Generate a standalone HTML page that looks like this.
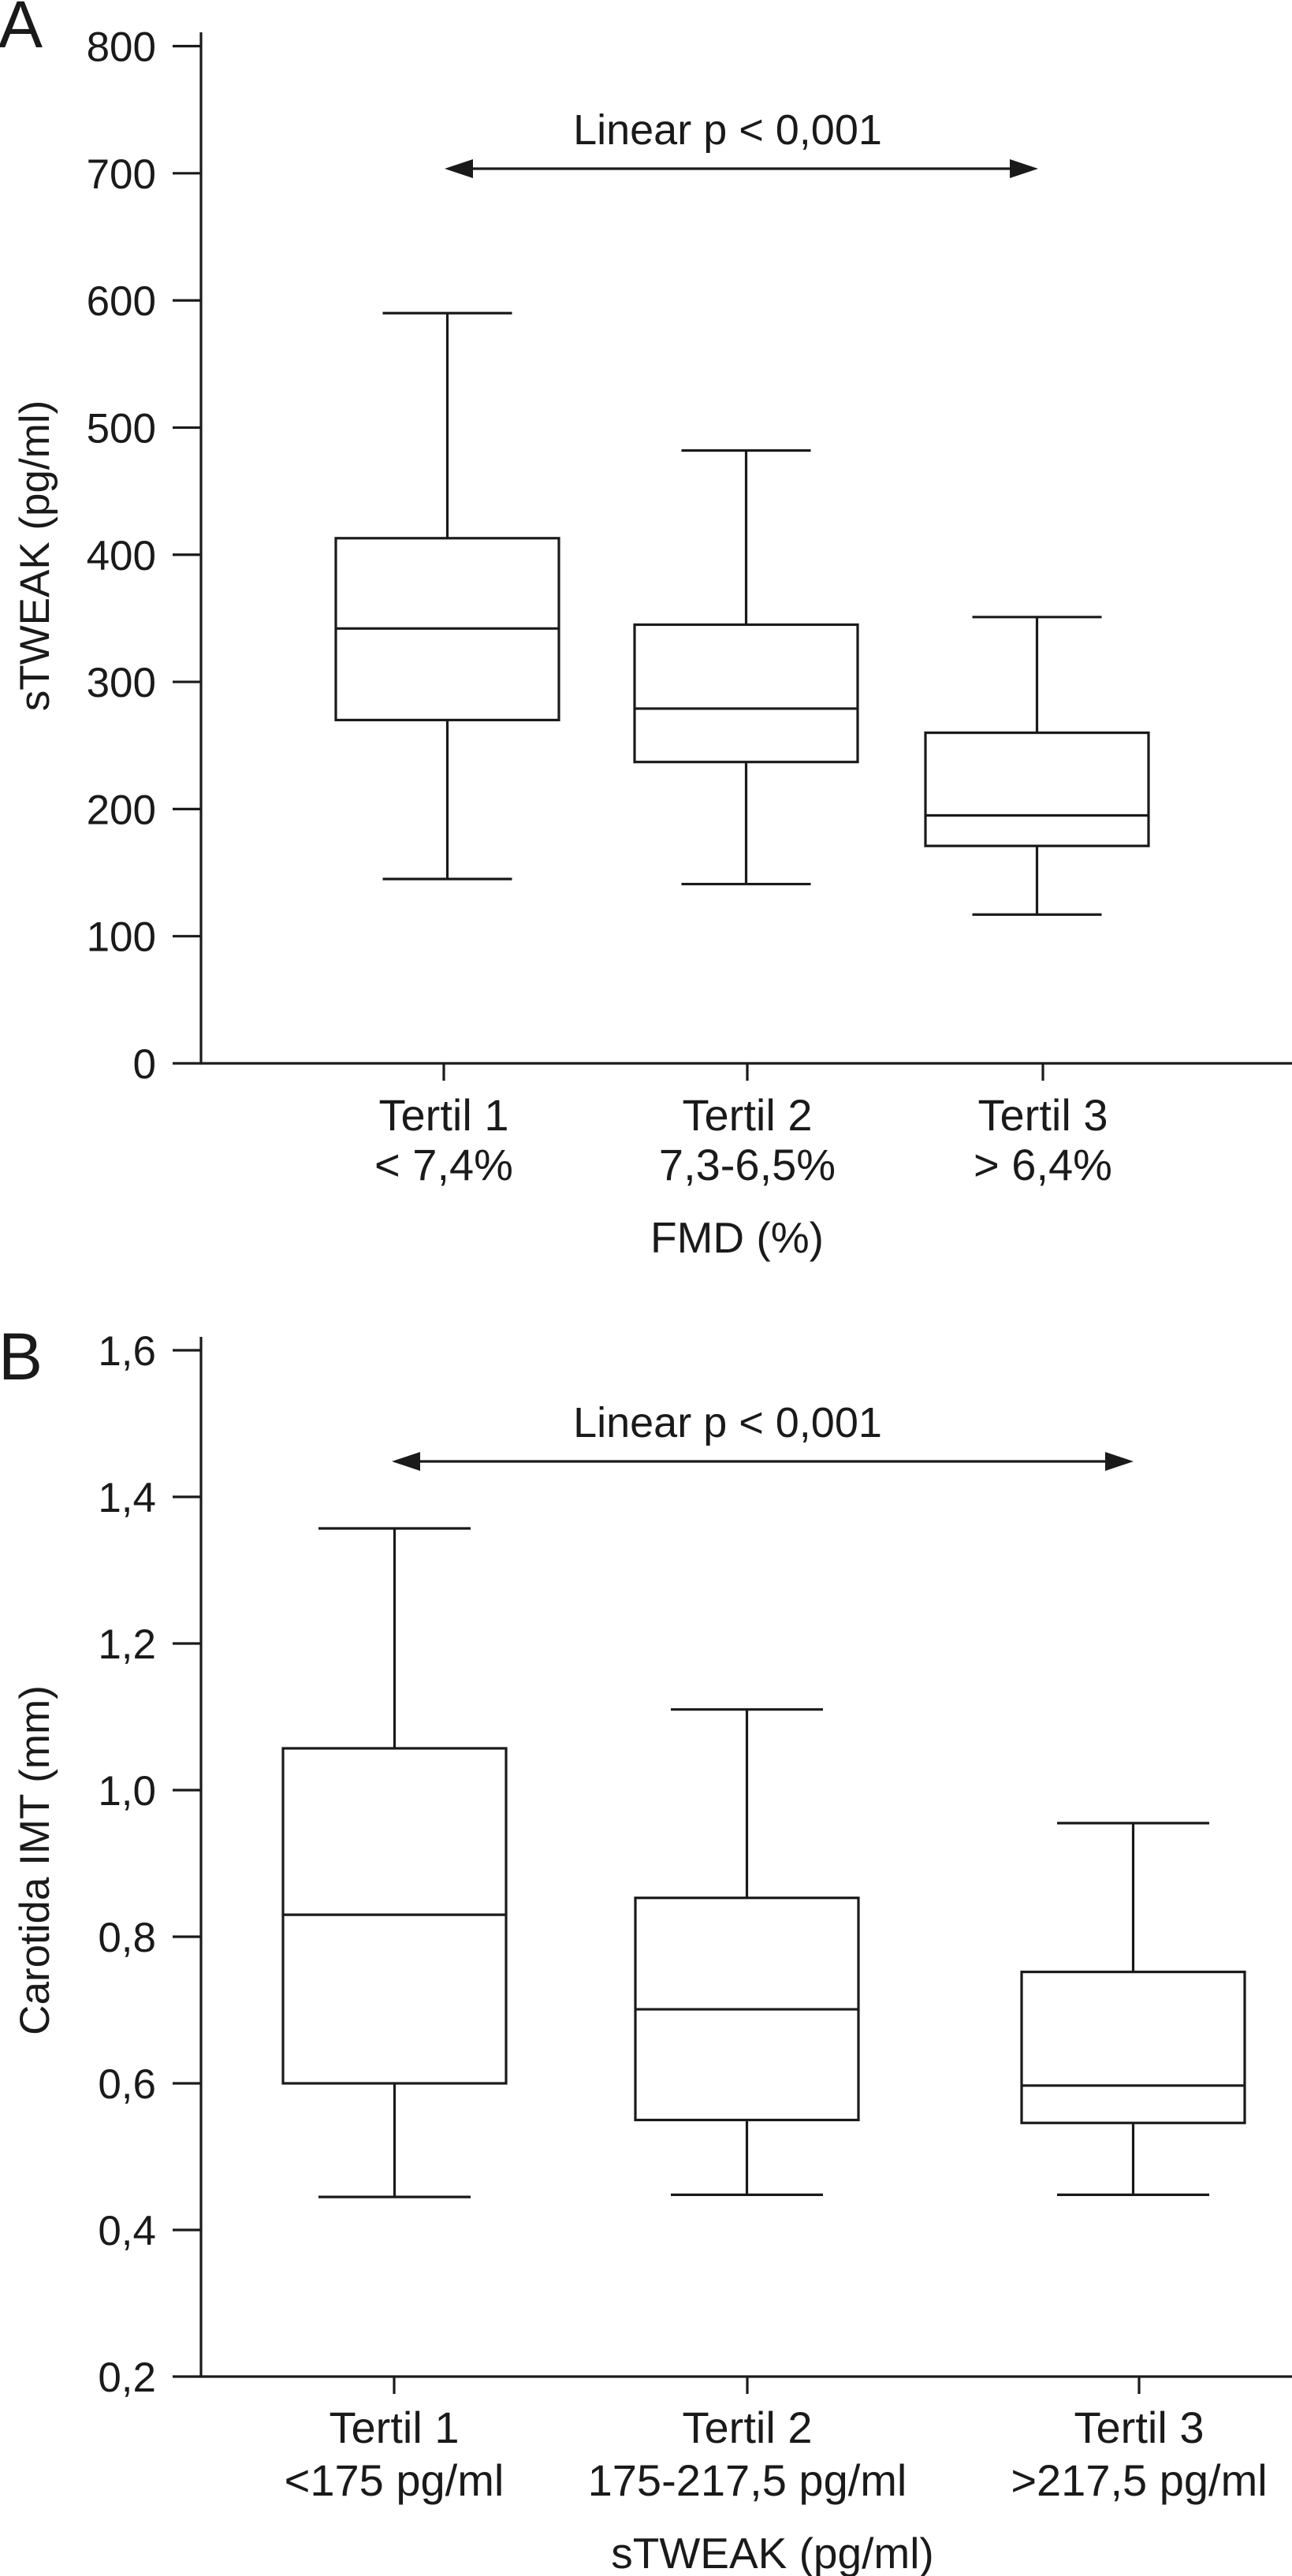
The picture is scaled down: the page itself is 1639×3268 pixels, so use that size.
<!DOCTYPE html>
<html><head><meta charset="utf-8">
<style>
html,body{margin:0;padding:0;background:#fff;}
svg{display:block;}
text{font-family:"Liberation Sans",Arial,sans-serif;fill:#1a1a1a;}
</style></head>
<body>
<svg id="chart" width="1639" height="3268" viewBox="0 0 1639 3268" xmlns="http://www.w3.org/2000/svg"></svg>
<script>
// Panel A data
const catsA1 = ["Tertil 1","Tertil 2","Tertil 3"];
const catsA2 = ["< 7,4%","7,3-6,5%","> 6,4%"];
const ticksA = [0,100,200,300,400,500,600,700,800];
const lowA = [145,141,117];
const q1A = [270,237,171];
const medA = [342,279,195];
const q3A = [413,345,260];
const highA = [590,482,351];
// Panel B data
const catsB1 = ["Tertil 1","Tertil 2","Tertil 3"];
const catsB2 = ["<175 pg/ml","175-217,5 pg/ml",">217,5 pg/ml"];
const ticksB = [0.2,0.4,0.6,0.8,1.0,1.2,1.4,1.6];
const lowB = [0.445,0.448,0.448];
const q1B = [0.600,0.550,0.546];
const medB = [0.830,0.701,0.597];
const q3B = [1.057,0.853,0.752];
const highB = [1.357,1.110,0.955];

const svg = document.getElementById('chart');
const NS = 'http://www.w3.org/2000/svg';
function mk(tag, attrs, parent){
  const e = document.createElementNS(NS, tag);
  for (const k in attrs) e.setAttribute(k, attrs[k]);
  (parent||svg).appendChild(e);
  return e;
}
function txt(s, x, y, size, anchor, parent){
  const t = mk('text', {x:x, y:y, 'font-size':size, 'text-anchor':anchor||'middle'}, parent);
  t.textContent = s;
  return t;
}

function panel(cfg){
  const g = mk('g', {});
  
  
  const y = v => cfg.y0 + (v - cfg.vmin) / (cfg.vmax - cfg.vmin) * (cfg.y1 - cfg.y0);
  const sw = 3.2;
  const L = txt(cfg.letter, -2, cfg.letterY, 84, 'start', g);
  
  
  const ya = mk('line', {x1:255, y1:cfg.axisTop, x2:255, y2:y(cfg.vmin), stroke:'#1a1a1a', 'stroke-width':sw}, g);
  
  
  cfg.ticks.forEach(v => {
    const yy = y(v);
    mk('line', {x1:219, y1:yy, x2:255, y2:yy, stroke:'#1a1a1a', 'stroke-width':sw}, g);
    const t = txt(cfg.fmt(v), 198, yy + 19, 53, 'end', g);
    
    
  });
  const xa = mk('line', {x1:253.5, y1:y(cfg.vmin), x2:1639, y2:y(cfg.vmin), stroke:'#1a1a1a', 'stroke-width':sw}, g);
  
  
  const yt = txt(cfg.ytitle, 0, 0, 53, 'middle', g);
  yt.setAttribute('transform', 'translate(62,' + cfg.ytitleY + ') rotate(-90)');
  
  
  cfg.cat1.forEach((c, i) => {
    const cx = cfg.tickX[i];
    mk('line', {x1:cx, y1:y(cfg.vmin), x2:cx, y2:y(cfg.vmin) + 22, stroke:'#1a1a1a', 'stroke-width':sw}, g);
    const a = txt(c, cx, cfg.lab1Y, 56, 'middle', g);
    
    
    const b = txt(cfg.cat2[i], cx, cfg.lab2Y, 56, 'middle', g);
    
    
    const bx = cfg.boxX[i], bw = cfg.boxW, wx = bx + bw / 2, cw = cfg.capW;
    const bg = mk('g', {stroke:'#1a1a1a', 'stroke-width':sw, fill:'none'}, g);
    
    
    mk('line', {x1:wx, y1:y(cfg.high[i]), x2:wx, y2:y(cfg.q3[i])}, bg);
    mk('line', {x1:wx, y1:y(cfg.q1[i]), x2:wx, y2:y(cfg.low[i])}, bg);
    mk('line', {x1:wx - cw / 2, y1:y(cfg.high[i]), x2:wx + cw / 2, y2:y(cfg.high[i])}, bg);
    mk('line', {x1:wx - cw / 2, y1:y(cfg.low[i]), x2:wx + cw / 2, y2:y(cfg.low[i])}, bg);
    mk('rect', {x:bx, y:y(cfg.q3[i]), width:bw, height:y(cfg.q1[i]) - y(cfg.q3[i])}, bg);
    mk('line', {x1:bx, y1:y(cfg.med[i]), x2:bx + bw, y2:y(cfg.med[i])}, bg);
  });
  const xt = txt(cfg.xtitle, cfg.xtitleX, cfg.xtitleY, 55, 'middle', g);
  
  
  const ag = mk('g', {}, g);
  
  
  const ay = cfg.arrowY, ax1 = cfg.arrowX[0], ax2 = cfg.arrowX[1];
  mk('line', {x1:ax1 + 20, y1:ay, x2:ax2 - 20, y2:ay, stroke:'#1a1a1a', 'stroke-width':sw}, ag);
  mk('polygon', {points:ax1 + ',' + ay + ' ' + (ax1 + 36) + ',' + (ay - 12) + ' ' + (ax1 + 36) + ',' + (ay + 12), fill:'#1a1a1a'}, ag);
  mk('polygon', {points:ax2 + ',' + ay + ' ' + (ax2 - 36) + ',' + (ay - 12) + ' ' + (ax2 - 36) + ',' + (ay + 12), fill:'#1a1a1a'}, ag);
  const pt = txt('Linear p < 0,001', 923, cfg.ptextY, 54, 'middle', g);
  
  
}

panel({name:'panel-a', letter:'A', letterY:60, vmin:0, vmax:800, y0:1349, y1:58.5, axisTop:41,
  ticks:ticksA, fmt:v => String(v), ytitle:'sTWEAK (pg/ml)', ytitleY:705,
  cat1:catsA1, cat2:catsA2, tickX:[563,948,1323], lab1Y:1434, lab2Y:1497,
  xtitle:'FMD (%)', xtitleX:935, xtitleY:1589,
  boxX:[426,805,1174], boxW:283, capW:164,
  low:lowA, q1:q1A, med:medA, q3:q3A, high:highA,
  arrowY:214, arrowX:[564,1317], ptextY:183});

panel({name:'panel-b', letter:'B', letterY:1750, vmin:0.2, vmax:1.6, y0:3015, y1:1713, axisTop:1696,
  ticks:ticksB, fmt:v => v.toFixed(1).replace('.', ','), ytitle:'Carotida IMT (mm)', ytitleY:2360,
  cat1:catsB1, cat2:catsB2, tickX:[500,948,1445], lab1Y:3099, lab2Y:3166,
  xtitle:'sTWEAK (pg/ml)', xtitleX:980, xtitleY:3258,
  boxX:[359,806,1296], boxW:283, capW:193,
  low:lowB, q1:q1B, med:medB, q3:q3B, high:highB,
  arrowY:1854, arrowX:[497,1438], ptextY:1823});
</script>
</body></html>
